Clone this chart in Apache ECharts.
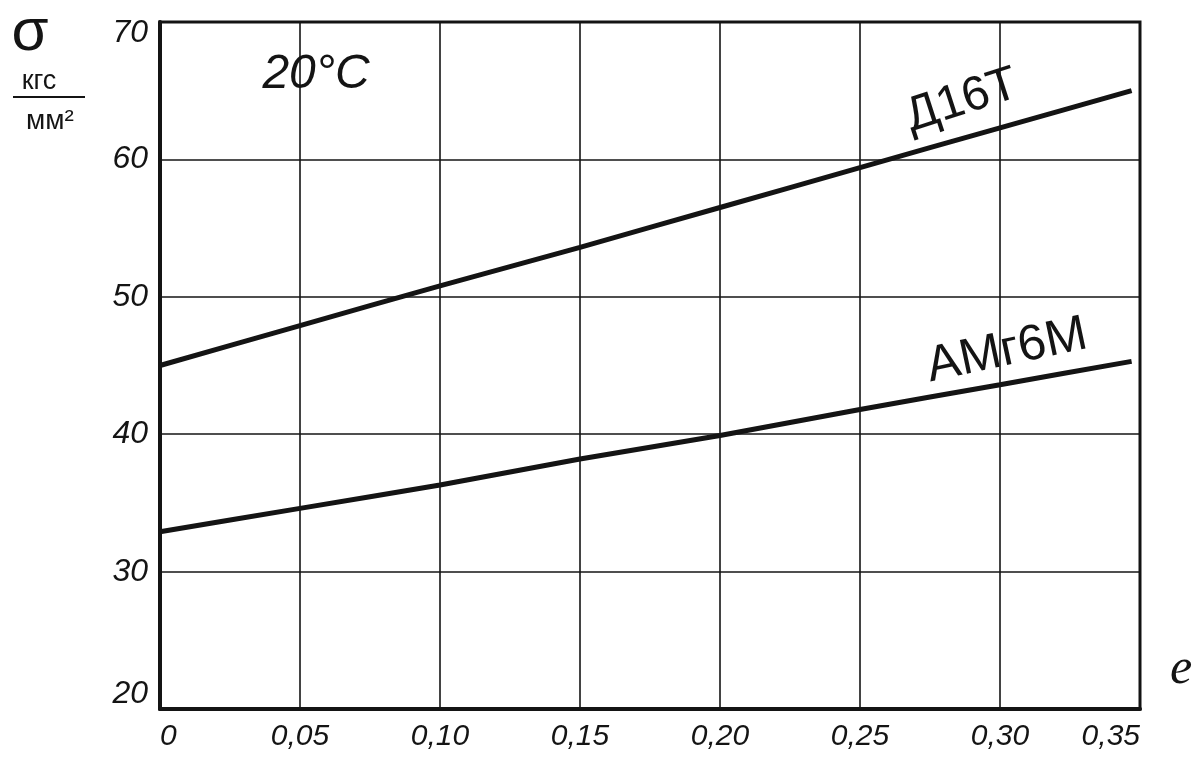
<!DOCTYPE html>
<html>
<head>
<meta charset="utf-8">
<title>σ(e) at 20°C</title>
<script src="https://cdn.jsdelivr.net/npm/echarts@6/dist/echarts.min.js"></script>
<style>
  html, body { margin: 0; padding: 0; background: #fff; }
  #chart { width: 1195px; height: 764px; }
</style>
</head>
<body>
<div id="chart"></div>
<script>
// Strain e (x) and flow stress σ, kgf/mm² (y) for two aluminium alloys at 20 °C
const strain = [0, 0.05, 0.10, 0.15, 0.20, 0.25, 0.30, 0.347];
const stressD16T = [45.0, 47.9, 50.8, 53.6, 56.5, 59.4, 62.3, 65.0];
const stressAMg6M = [32.9, 34.6, 36.3, 38.2, 39.9, 41.8, 43.6, 45.3];

const xTickLabels = ['0', '0,05', '0,10', '0,15', '0,20', '0,25', '0,30', '0,35'];
const yTickLabels = ['20', '30', '40', '50', '60', '70'];

const ink = '#141414';
const hand = '"Liberation Sans", "DejaVu Sans", sans-serif';

const pairs = (xs, ys) => xs.map((x, i) => [x, ys[i]]);

const chart = echarts.init(document.getElementById('chart'), null, { renderer: 'canvas' });

chart.setOption({
  backgroundColor: '#ffffff',
  animation: false,
  grid: {
    left: 160, right: 55, top: 22, bottom: 55,
    show: true, borderColor: ink, borderWidth: 3, backgroundColor: 'transparent'
  },
  xAxis: {
    type: 'value', min: 0, max: 0.35, interval: 0.05,
    axisLine: { show: true, lineStyle: { color: ink, width: 4 } },
    axisTick: { show: false },
    splitLine: { show: true, lineStyle: { color: ink, width: 1.6 } },
    axisLabel: {
      margin: 13, color: ink, fontSize: 30, fontStyle: 'italic', fontFamily: hand,
      alignMinLabel: 'left', alignMaxLabel: 'right',
      formatter: v => xTickLabels[Math.round(v / 0.05)] ?? ''
    }
  },
  yAxis: {
    type: 'value', min: 20, max: 70, interval: 10,
    axisLine: { show: true, lineStyle: { color: ink, width: 4 } },
    axisTick: { show: false },
    splitLine: { show: true, lineStyle: { color: ink, width: 1.6 } },
    axisLabel: {
      margin: 12, color: ink, fontSize: 32, fontStyle: 'italic', fontFamily: hand,
      formatter: v => {
        const t = yTickLabels[Math.round((v - 20) / 10)] ?? '';
        if (v === 70) return '{top|' + t + '}';
        if (v === 20) return '{bottom|' + t + '}';
        return t;
      },
      rich: {
        top: { fontSize: 32, fontStyle: 'italic', fontFamily: hand, color: ink, padding: [22, 0, 0, 0] },
        bottom: { fontSize: 32, fontStyle: 'italic', fontFamily: hand, color: ink, padding: [0, 0, 30, 0] }
      }
    }
  },
  series: [
    {
      name: 'Д16Т', type: 'line', data: pairs(strain, stressD16T),
      smooth: 0.2, symbol: 'none',
      lineStyle: { color: ink, width: 5 }
    },
    {
      name: 'АМг6М', type: 'line', data: pairs(strain, stressAMg6M),
      smooth: 0.2, symbol: 'none',
      lineStyle: { color: ink, width: 5 }
    }
  ],
  graphic: [
    // y-axis quantity and unit
    { type: 'text', x: 30, y: 33, style: { text: 'σ', fill: ink, font: '60px ' + hand, align: 'center', verticalAlign: 'middle' } },
    { type: 'text', x: 39, y: 82, style: { text: 'кгс', fill: ink, font: '27px ' + hand, align: 'center', verticalAlign: 'middle' } },
    { type: 'line', shape: { x1: 13, y1: 97, x2: 85, y2: 97 }, style: { stroke: ink, lineWidth: 2 } },
    { type: 'text', x: 50, y: 121, style: { text: 'мм²', fill: ink, font: '28px ' + hand, align: 'center', verticalAlign: 'middle' } },
    // temperature note
    { type: 'text', x: 316, y: 75, style: { text: '20°C', fill: ink, font: 'italic 48px ' + hand, align: 'center', verticalAlign: 'middle' } },
    // curve names
    { type: 'text', x: 962, y: 101, rotation: 18 * Math.PI / 180, style: { text: 'Д16Т', fill: ink, font: '48px ' + hand, align: 'center', verticalAlign: 'middle' } },
    { type: 'text', x: 1007, y: 351, rotation: 12 * Math.PI / 180, style: { text: 'АМг6М', fill: ink, font: '50px ' + hand, align: 'center', verticalAlign: 'middle' } },
    // x-axis quantity
    { type: 'text', x: 1181, y: 670, style: { text: 'e', fill: ink, font: 'italic 50px "Liberation Serif", "DejaVu Serif", serif', align: 'center', verticalAlign: 'middle' } }
  ]
});
</script>
</body>
</html>
